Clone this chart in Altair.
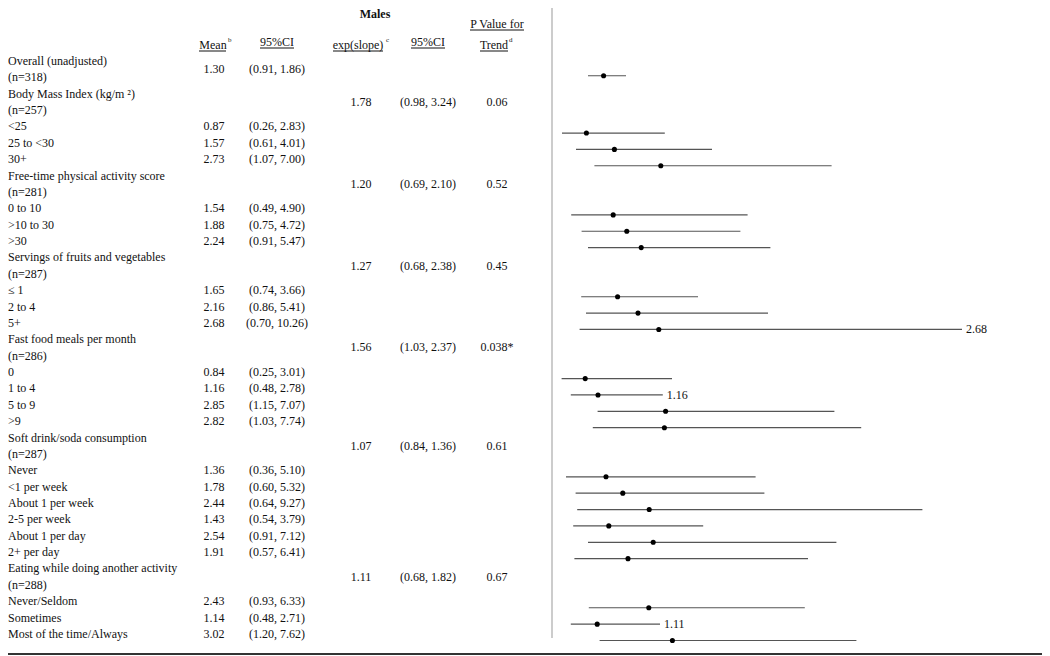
import altair as alt
import pandas as pd

FONT = "Liberation Serif"
NB = "\u00a0"

# ---- table rows (one entry per printed line) ----
row_labels = [
    "Overall (unadjusted)", "(n=318)",
    "Body Mass Index (kg/m \u00b2)", "(n=257)", "<25", "25 to <30", "30+",
    "Free-time physical activity score", "(n=281)", "0 to 10", ">10 to 30", ">30",
    "Servings of fruits and vegetables", "(n=287)", "\u2264 1", "2 to 4", "5+",
    "Fast food meals per month", "(n=286)", "0", "1 to 4", "5 to 9", ">9",
    "Soft drink/soda consumption", "(n=287)", NB + "Never", NB + "<1 per week",
    NB + "About 1 per week", NB + "2-5 per week", NB + "About 1 per day", NB + "2+ per day",
    "Eating while doing another activity", "(n=288)", NB + "Never/Seldom",
    NB + "Sometimes", NB + "Most of the time/Always",
]

# ---- category estimates ----
est_line = [0.5, 4, 5, 6, 9, 10, 11, 14, 15, 16, 19, 20, 21, 22,
            25, 26, 27, 28, 29, 30, 33, 34, 35]
est_mean = [1.30, 0.87, 1.57, 2.73, 1.54, 1.88, 2.24, 1.65, 2.16, 2.68,
            0.84, 1.16, 2.85, 2.82, 1.36, 1.78, 2.44, 1.43, 2.54, 1.91,
            2.43, 1.14, 3.02]
est_lo = [0.91, 0.26, 0.61, 1.07, 0.49, 0.75, 0.91, 0.74, 0.86, 0.70,
          0.25, 0.48, 1.15, 1.03, 0.36, 0.60, 0.64, 0.54, 0.91, 0.57,
          0.93, 0.48, 1.20]
est_hi = [1.86, 2.83, 4.01, 7.00, 4.90, 4.72, 5.47, 3.66, 5.41, 10.26,
          3.01, 2.78, 7.07, 7.74, 5.10, 5.32, 9.27, 3.79, 7.12, 6.41,
          6.33, 2.71, 7.62]
end_label = ["", "", "", "", "", "", "", "", "", "2.68",
             "", "1.16", "", "", "", "", "", "", "", "",
             "", "1.11", ""]

# ---- trend tests ----
trend_line = [2.5, 7.5, 12.5, 17.5, 23.5, 31.5]
trend_exp = [1.78, 1.20, 1.27, 1.56, 1.07, 1.11]
trend_lo = [0.98, 0.69, 0.68, 1.03, 0.84, 0.68]
trend_hi = [3.24, 2.10, 2.38, 2.37, 1.36, 1.82]
trend_p = ["0.06", "0.52", "0.45", "0.038*", "0.61", "0.67"]

rows = pd.DataFrame({"label": row_labels, "line": list(range(len(row_labels)))})
est = pd.DataFrame({
    "line": est_line, "mean": est_mean, "lo": est_lo, "hi": est_hi,
    "endlab": end_label,
    "meantxt": [f"{m:.2f}" for m in est_mean],
    "citxt": [f"({a:.2f}, {b:.2f})" for a, b in zip(est_lo, est_hi)],
})
trend = pd.DataFrame({
    "line": trend_line,
    "exptxt": [f"{m:.2f}" for m in trend_exp],
    "citxt": [f"({a:.2f}, {b:.2f})" for a, b in zip(trend_lo, trend_hi)],
    "p": trend_p,
})
one = pd.DataFrame({"k": [0]})

yscale = alt.Scale(domain=[0, 35], range=[53, 53 + 16.37 * 35])
xscale = alt.Scale(domain=[0, 10], range=[543.6, 943.6])

TXT = dict(font=FONT, fontSize=12, color="#111", baseline="middle")

labels = alt.Chart(rows).mark_text(align="left", **TXT).encode(
    x=alt.value(0), y=alt.Y("line:Q", scale=yscale, axis=None), text="label:N")

mean_col = alt.Chart(est).mark_text(align="center", **TXT).encode(
    x=alt.value(206), y=alt.Y("line:Q", scale=yscale, axis=None), text="meantxt:N")
ci_col = alt.Chart(est).mark_text(align="center", **TXT).encode(
    x=alt.value(269), y=alt.Y("line:Q", scale=yscale, axis=None), text="citxt:N")

exp_col = alt.Chart(trend).mark_text(align="center", **TXT).encode(
    x=alt.value(353), y=alt.Y("line:Q", scale=yscale, axis=None), text="exptxt:N")
ci2_col = alt.Chart(trend).mark_text(align="center", **TXT).encode(
    x=alt.value(420), y=alt.Y("line:Q", scale=yscale, axis=None), text="citxt:N")
p_col = alt.Chart(trend).mark_text(align="center", **TXT).encode(
    x=alt.value(489), y=alt.Y("line:Q", scale=yscale, axis=None), text="p:N")


def htext(t, x, y, size=12, bold=False, align="center"):
    return alt.Chart(one).mark_text(
        text=t, font=FONT, fontSize=size, color="#111", baseline="middle",
        align=align, fontWeight="bold" if bold else "normal",
    ).encode(x=alt.value(x), y=alt.value(y))


def uline(x1, x2, y):
    return alt.Chart(one).mark_rule(color="#111", strokeWidth=1).encode(
        x=alt.value(x1), x2=alt.value(x2), y=alt.value(y))


headers = [
    htext("Males", 367, 6, bold=True),
    htext("P Value for", 489, 16),
    uline(462, 516, 22),
    htext("Mean", 205, 37), htext("b", 220, 32, size=7, align="left"), uline(191, 218, 43),
    htext("95%CI", 269, 34), uline(252, 286, 40),
    htext("exp(slope)", 350, 37), htext("c", 378, 32, size=7, align="left"), uline(325, 375, 43),
    htext("95%CI", 420, 34), uline(403, 437, 40),
    htext("Trend", 486, 37), htext("d", 501, 32, size=7, align="left"), uline(472, 500, 43),
]

vline = alt.Chart(one).mark_rule(color="#bbbbbb", strokeWidth=1.5).encode(
    x=alt.value(544), y=alt.value(0), y2=alt.value(630))
bottom = alt.Chart(one).mark_rule(color="#333", strokeWidth=2).encode(
    x=alt.value(0), x2=alt.value(1034), y=alt.value(646))

base_f = alt.Chart(est).transform_calculate(fy="datum.line + 0.4")
ci_rules = base_f.mark_rule(color="#555", strokeWidth=1.2).encode(
    x=alt.X("lo:Q", scale=xscale, axis=None), x2="hi:Q",
    y=alt.Y("fy:Q", scale=yscale, axis=None))
dots = base_f.mark_circle(color="black", size=26, opacity=1).encode(
    x=alt.X("mean:Q", scale=xscale, axis=None),
    y=alt.Y("fy:Q", scale=yscale, axis=None))
endlabs = base_f.mark_text(align="left", dx=4, **TXT).encode(
    x=alt.X("hi:Q", scale=xscale, axis=None),
    y=alt.Y("fy:Q", scale=yscale, axis=None), text="endlab:N")

chart = alt.layer(
    vline, bottom, labels, mean_col, ci_col, exp_col, ci2_col, p_col,
    *headers, ci_rules, dots, endlabs,
).properties(
    width=1034, height=648, padding=0,
    autosize=alt.AutoSizeParams(type="none"),
).configure_view(stroke=None)

chart.save("out.html", embed_options={"renderer": "svg", "actions": False})
